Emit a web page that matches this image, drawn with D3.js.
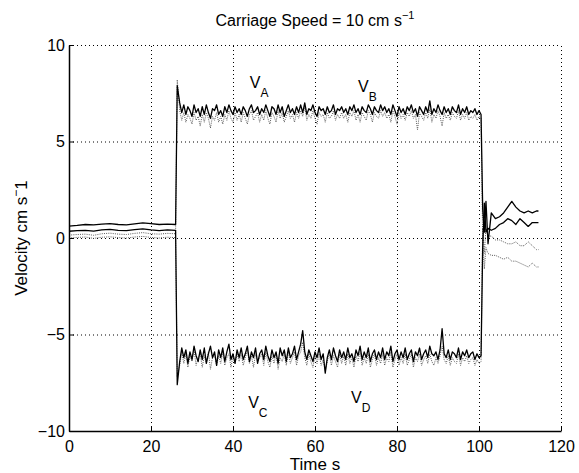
<!DOCTYPE html>
<html>
<head>
<meta charset="utf-8">
<script src="https://cdn.jsdelivr.net/npm/d3@7"></script>
<style>
  body { margin: 0; background: #fff; }
  svg { display: block; font-family: "Liberation Sans", Arial, Helvetica, sans-serif; }
</style>
</head>
<body>
<svg id="chart" width="579" height="473"></svg>
<script>
// DATA
const time = [
  // before the carriage starts
  0, 2, 4, 6, 8, 10, 12, 14, 16, 18, 20, 22, 24, 26, 26.4,
  // carriage running
  27, 27.5, 28, 28.5, 29, 29.5, 30, 30.5, 31, 31.5,
  32, 32.5, 33, 33.5, 34, 34.5, 35, 35.5, 36, 36.5,
  37, 37.5, 38, 38.5, 39, 39.5, 40, 40.5, 41, 41.5,
  42, 42.5, 43, 43.5, 44, 44.5, 45, 45.5, 46, 46.5,
  47, 47.5, 48, 48.5, 49, 49.5, 50, 50.5, 51, 51.5,
  52, 52.5, 53, 53.5, 54, 54.5, 55, 55.5, 56, 56.5,
  57, 57.5, 58, 58.5, 59, 59.5, 60, 60.5, 61, 61.5,
  62, 62.5, 63, 63.5, 64, 64.5, 65, 65.5, 66, 66.5,
  67, 67.5, 68, 68.5, 69, 69.5, 70, 70.5, 71, 71.5,
  72, 72.5, 73, 73.5, 74, 74.5, 75, 75.5, 76, 76.5,
  77, 77.5, 78, 78.5, 79, 79.5, 80, 80.5, 81, 81.5,
  82, 82.5, 83, 83.5, 84, 84.5, 85, 85.5, 86, 86.5,
  87, 87.5, 88, 88.5, 89, 89.5, 90, 90.5, 91, 91.5,
  92, 92.5, 93, 93.5, 94, 94.5, 95, 95.5, 96, 96.5,
  97, 97.5, 98, 98.5, 99, 99.5, 100, 100.5,
  // after stop
  100.9, 101.3, 101.7, 102.2, 103, 104, 105, 106, 107, 108, 109, 110, 111, 112, 113, 114, 114.5
];

const vA = [
  0.62, 0.65, 0.70, 0.68, 0.72, 0.75, 0.70, 0.68, 0.73, 0.78, 0.74, 0.70, 0.72, 0.70, 7.9,
  7.0, 6.5, 6.9, 6.4, 6.8, 6.6, 6.3, 6.9, 6.5, 6.7,
  6.3, 6.8, 6.4, 6.9, 6.5, 6.2, 6.7, 6.6, 6.9, 6.4,
  6.6, 6.3, 6.8, 6.5, 6.9, 6.6, 6.4, 6.8, 6.5, 6.7,
  6.4, 6.8, 6.6, 6.3, 6.7, 6.9, 6.5, 6.6, 6.8, 6.4,
  6.7, 6.5, 6.9, 6.6, 6.3, 6.8, 6.7, 6.4, 6.9, 6.5,
  6.8, 6.3, 6.6, 6.9, 6.5, 6.7, 6.4, 6.8, 6.5, 6.9,
  6.5, 7.0, 6.4, 6.7, 6.6, 6.9, 6.5, 6.3, 6.8, 6.6,
  6.7, 6.4, 6.8, 6.5, 6.6, 6.9, 6.4, 6.7, 6.6, 6.8,
  6.5, 6.7, 6.4, 6.8, 6.6, 6.9, 6.5, 6.7, 6.4, 6.8,
  6.6, 6.5, 6.9, 6.7, 6.4, 6.8, 6.6, 6.5, 6.9, 6.6,
  6.8, 6.5, 6.7, 6.4, 6.9, 6.6, 6.3, 6.8, 6.5, 6.7,
  6.4, 6.8, 6.6, 6.9, 6.5, 6.7, 6.3, 6.8, 6.6, 6.4,
  6.8, 6.5, 7.1, 6.4, 6.7, 6.5, 6.9, 6.6, 6.4, 6.8,
  6.5, 6.7, 6.4, 6.8, 6.6, 6.5, 6.9, 6.4, 6.7, 6.5,
  6.8, 6.4, 6.6, 6.5, 6.7, 6.4, 6.6, 6.4,
  1.5, 0.3, 1.9, -0.3, 1.3, 1.0, 1.1, 1.3, 1.6, 1.9, 1.6, 1.4, 1.3, 1.4, 1.3, 1.4, 1.4
];

const vB = [
  0.15, 0.18, 0.20, 0.14, 0.22, 0.25, 0.20, 0.18, 0.24, 0.28, 0.22, 0.20, 0.24, 0.22, 8.2,
  6.6, 6.1, 6.5, 6.0, 6.4, 6.2, 5.9, 6.5, 6.1, 6.3,
  5.8, 6.4, 6.0, 6.5, 6.2, 5.7, 6.3, 6.1, 6.5, 6.0,
  6.3, 5.9, 6.4, 6.1, 6.6, 6.2, 6.0, 6.5, 6.1, 6.4,
  6.0, 6.5, 6.2, 5.9, 6.4, 6.6, 6.1, 6.3, 6.5, 6.0,
  6.4, 6.1, 6.6, 6.2, 5.9, 6.5, 6.3, 6.0, 6.6, 6.2,
  6.5, 6.0, 6.3, 6.6, 6.2, 6.4, 6.0, 6.5, 6.2, 6.6,
  6.3, 6.8, 6.1, 6.4, 6.2, 6.6, 6.2, 5.9, 6.5, 6.3,
  6.4, 6.0, 6.5, 6.2, 6.3, 6.6, 6.1, 6.4, 6.2, 6.5,
  6.2, 6.4, 6.0, 6.5, 6.3, 6.6, 6.1, 6.4, 6.0, 6.5,
  6.3, 6.1, 6.6, 6.4, 6.0, 6.5, 6.3, 6.2, 6.6, 6.3,
  6.5, 6.2, 6.4, 6.0, 6.6, 6.3, 5.9, 6.5, 6.2, 6.4,
  6.1, 6.5, 6.3, 6.6, 6.2, 6.4, 5.6, 6.5, 6.3, 6.1,
  6.5, 6.2, 6.7, 6.0, 6.4, 6.2, 6.6, 6.3, 5.8, 6.5,
  6.2, 6.4, 6.1, 6.5, 6.3, 6.2, 6.6, 6.1, 6.4, 6.2,
  6.5, 6.1, 6.3, 6.2, 6.4, 6.1, 6.3, 6.2,
  0.0, -1.6, -0.5, -0.8, -0.9, -0.9, -1.0, -1.1, -1.0, -1.2, -1.2, -1.3, -1.4, -1.5, -1.3, -1.5, -1.5
];

const vC = [
  0.35, 0.38, 0.40, 0.36, 0.42, 0.45, 0.40, 0.38, 0.43, 0.47, 0.42, 0.38, 0.42, 0.40, -7.6,
  -6.4, -5.7, -6.2, -5.8, -6.5, -5.9, -6.3, -5.6, -6.1, -6.4,
  -5.8, -6.3, -5.7, -6.5, -6.0, -5.6, -6.2, -5.9, -6.6, -5.8,
  -6.2, -5.7, -6.4, -5.9, -5.5, -6.3, -6.0, -6.5, -5.8, -6.2,
  -5.7, -6.3, -6.0, -5.6, -6.4, -5.9, -6.2, -5.7, -6.5, -6.0,
  -5.8, -6.3, -5.6, -6.1, -6.4, -5.8, -6.2, -5.9, -6.5, -5.7,
  -6.1, -5.8, -6.4, -5.7, -6.2, -6.0, -5.6, -6.3, -5.9, -5.5,
  -4.8, -5.9, -6.3, -5.8, -6.1, -6.4, -5.9, -6.2, -5.7, -6.3,
  -6.0, -7.0, -6.2, -5.8, -6.3, -5.7, -6.1, -6.4, -5.8, -6.2,
  -5.9, -6.3, -5.7, -6.2, -6.0, -6.4, -5.8, -6.1, -5.6, -6.3,
  -5.9, -6.2, -5.7, -6.4, -6.0, -5.8, -6.3, -5.9, -6.2, -5.7,
  -6.3, -5.9, -6.1, -5.6, -6.4, -6.0, -5.8, -6.3, -5.9, -6.2,
  -5.7, -6.3, -6.0, -5.8, -6.4, -5.9, -6.1, -5.7, -6.3, -6.0,
  -5.8, -6.2, -5.6, -6.0, -6.1, -5.9, -6.3, -5.8, -4.7, -6.0,
  -6.2, -5.8, -6.3, -5.9, -6.0, -6.2, -5.7, -6.3, -5.9, -6.1,
  -5.8, -6.2, -6.0, -5.9, -6.3, -6.0, -6.2, -6.1,
  -0.5, 1.8, 0.3, 0.5, 0.4, 0.5, 0.7, 0.8, 1.0, 0.9, 0.7, 1.0, 0.8, 0.6, 0.8, 0.8, 0.8
];

const vD = [
  0.00, 0.03, 0.05, -0.02, 0.04, 0.06, 0.02, 0.00, 0.05, 0.08, 0.03, 0.00, 0.04, 0.02, -7.2,
  -6.6, -5.9, -6.5, -6.0, -6.7, -6.1, -6.4, -5.8, -6.6, -6.2,
  -6.0, -6.7, -6.1, -6.5, -5.9, -6.8, -6.2, -6.0, -6.6, -6.1,
  -6.5, -5.9, -6.6, -6.2, -6.0, -6.7, -6.1, -6.5, -6.0, -6.4,
  -6.0, -6.6, -6.2, -5.8, -6.5, -6.1, -6.7, -6.0, -6.4, -6.2,
  -6.0, -6.6, -5.9, -6.4, -6.7, -6.1, -6.5, -6.0, -6.8, -6.2,
  -6.4, -6.0, -6.6, -5.9, -6.5, -6.2, -5.9, -6.6, -6.1, -5.9,
  -5.4, -6.2, -6.6, -6.0, -6.4, -6.7, -6.1, -6.5, -6.0, -6.6,
  -6.3, -6.9, -6.4, -6.0, -6.6, -6.1, -6.4, -6.7, -6.0, -6.5,
  -6.1, -6.6, -6.0, -6.5, -6.2, -6.7, -6.1, -6.4, -5.9, -6.6,
  -6.2, -6.5, -6.0, -6.7, -6.3, -6.0, -6.6, -6.2, -6.5, -6.0,
  -6.6, -6.2, -6.4, -5.9, -6.7, -6.3, -6.0, -6.6, -6.2, -6.5,
  -6.0, -6.6, -6.3, -6.0, -6.7, -6.2, -6.4, -6.0, -6.6, -6.3,
  -6.1, -6.5, -6.0, -6.4, -6.6, -6.2, -6.5, -6.1, -5.6, -6.3,
  -6.5, -6.1, -6.6, -6.2, -6.4, -6.5, -6.0, -6.6, -6.2, -6.4,
  -6.1, -6.5, -6.3, -6.2, -6.6, -6.3, -6.5, -6.4,
  0.5, -0.8, 0.5, 0.1, 0.1, -0.1, -0.1, -0.2, -0.3, -0.3, -0.2, -0.4, -0.4, -0.2, -0.4, -0.6, -0.6
];

const xTicks = [0, 20, 40, 60, 80, 100, 120];
const yTicks = [-10, -5, 0, 5, 10];

// CANVAS SETUP
const svg = d3.select("#chart");
const margin = { top: 45, right: 18, bottom: 42, left: 69 };
const width = +svg.attr("width") - margin.left - margin.right,
  height = +svg.attr("height") - margin.top - margin.bottom;

const x = d3.scaleLinear().domain([0, 120]).range([margin.left, margin.left + width]);
const y = d3.scaleLinear().domain([-10, 10]).range([margin.top + height, margin.top]);

// grid (dotted, including top and right border)
const grid = svg.append("g").attr("stroke", "#000").attr("stroke-width", 1)
  .attr("stroke-dasharray", "1,3");
grid.selectAll(".gx").data(xTicks.filter((d) => d > 0)).join("line")
  .attr("x1", (d) => x(d) + 0.5).attr("x2", (d) => x(d) + 0.5)
  .attr("y1", y(-10)).attr("y2", y(10));
grid.selectAll(".gy").data(yTicks.filter((d) => d > -10)).join("line")
  .attr("y1", (d) => y(d) + 0.5).attr("y2", (d) => y(d) + 0.5)
  .attr("x1", x(0)).attr("x2", x(120));

// series
const line = d3.line().x((d, i) => x(time[i])).y((d) => y(d));
const series = [
  { values: vB, dotted: true },
  { values: vD, dotted: true },
  { values: vA, dotted: false },
  { values: vC, dotted: false },
];
svg.append("g").selectAll("path").data(series).join("path")
  .attr("d", (d) => line(d.values))
  .attr("fill", "none")
  .attr("stroke", (d) => (d.dotted ? "#555" : "#000"))
  .attr("stroke-width", (d) => (d.dotted ? 1 : 1.3))
  .attr("stroke-dasharray", (d) => (d.dotted ? "1,1.2" : null))
  .attr("stroke-linejoin", "round");

// axes
const xAxis = d3.axisBottom(x).tickValues(xTicks).tickSize(-5).tickPadding(10).tickSizeOuter(0);
const yAxis = d3.axisLeft(y).tickValues(yTicks).tickSize(-5).tickPadding(4).tickSizeOuter(0)
  .tickFormat((d) => (d < 0 ? "\u2212" + Math.abs(d) : d));

const gx = svg.append("g").attr("transform", `translate(0,${y(-10)})`).call(xAxis);
const gy = svg.append("g").attr("transform", `translate(${x(0)},0)`).call(yAxis);
[gx, gy].forEach((g) => {
  g.select(".domain").attr("stroke", "#000").attr("stroke-width", 1.5);
  g.selectAll(".tick line").attr("stroke", "#000");
  g.selectAll("text").attr("fill", "#000").style("font-size", "16px")
    .style("font-family", "'Liberation Sans', Arial, sans-serif");
});

// title
const title = svg.append("text").attr("x", x(60)).attr("y", 26)
  .attr("text-anchor", "middle").style("font-size", "16px");
title.append("tspan").text("Carriage Speed = 10 cm s");
title.append("tspan").attr("dy", -7).style("font-size", "11px").text("\u22121");

// axis labels
svg.append("text").attr("x", x(60)).attr("y", 470)
  .attr("text-anchor", "middle").style("font-size", "17px").text("Time  s");

const yl = svg.append("text")
  .attr("transform", `translate(27,${y(0)}) rotate(-90)`)
  .attr("text-anchor", "middle").style("font-size", "17px");
yl.append("tspan").text("Velocity  cm s");
yl.append("tspan").attr("dy", -7).style("font-size", "12px").text("\u2212");
yl.append("tspan").attr("dy", 7).text("1");

// annotations V_A .. V_D
const notes = [
  { sub: "A", t: 44.1, v: 7.77 },
  { sub: "B", t: 70.5, v: 7.56 },
  { sub: "C", t: 43.7, v: -8.8 },
  { sub: "D", t: 68.8, v: -8.55 },
];
const nt = svg.append("g").selectAll("text").data(notes).join("text")
  .attr("x", (d) => x(d.t)).attr("y", (d) => y(d.v))
  .style("font-size", "16px");
nt.append("tspan").text("V");
nt.append("tspan").attr("dy", 9).style("font-size", "12px").text((d) => d.sub);
</script>
</body>
</html>
